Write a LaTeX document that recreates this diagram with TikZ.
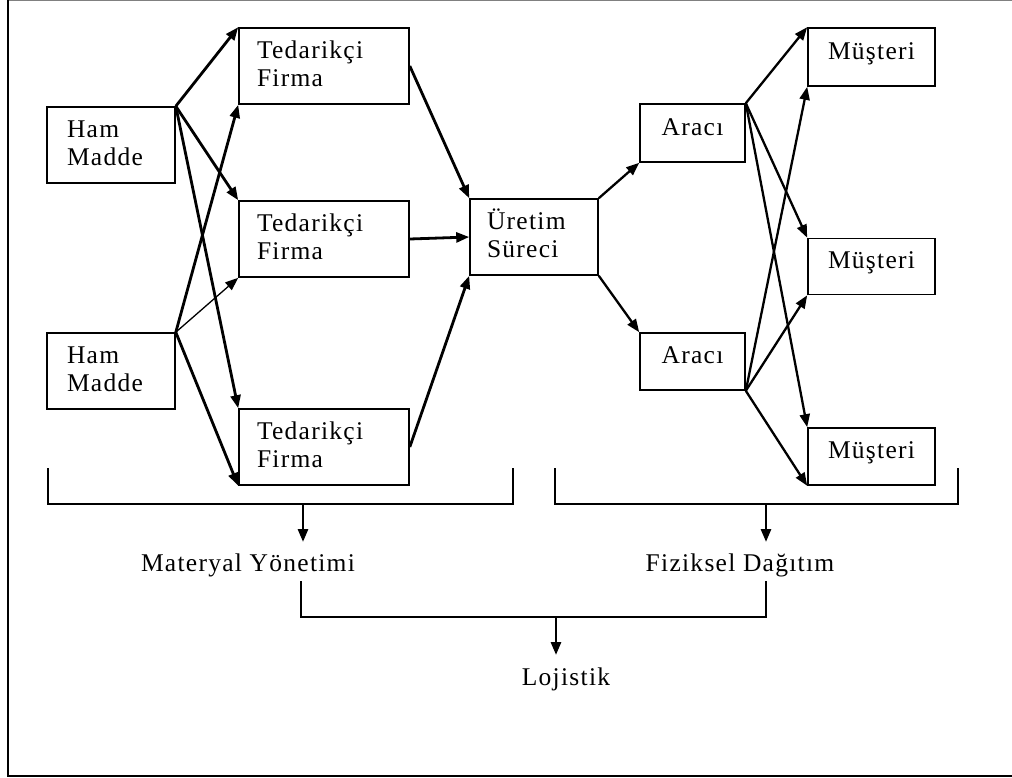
\documentclass[tikz,border=0pt]{standalone}
\usepackage{fontspec}
\setmainfont{Liberation Serif}[LetterSpace=5]
\usetikzlibrary{arrows.meta}
\begin{document}
\begin{tikzpicture}[x=1pt,y=-1pt,
  box/.style={draw, line width=1.6pt, inner sep=0pt, font=\fontsize{25.5}{28}\selectfont},
  two/.style={box, text height=17pt, text depth=33pt, align=left},
  one/.style={box, text height=17pt, text depth=13pt},
  arr/.style={line width=2.8pt, -{Triangle[length=13pt,width=10pt]}},
  thinarr/.style={line width=1.3pt, -{Triangle[length=13pt,width=10pt]}},
  brk/.style={line width=1.6pt},
  lbl/.style={inner sep=0pt, anchor=base, font=\fontsize{25.5}{28}\selectfont}
]
\useasboundingbox (0,0) rectangle (1012,777);
% frame
\draw[line width=1pt, gray] (8,0.5) -- (1012,0.5);
\draw[line width=2pt] (8,0) -- (8,776) -- (1012,776);

% boxes
\node[two, minimum width=128pt, minimum height=76pt, text width=88pt] (hm1) at (111,145) {Ham\\Madde};
\node[two, minimum width=128pt, minimum height=76pt, text width=88pt] (hm2) at (111,371) {Ham\\Madde};
\node[two, minimum width=170pt, minimum height=76pt, text width=134pt] (t1) at (324,66) {Tedarikçi\\Firma};
\node[two, minimum width=170pt, minimum height=76pt, text width=134pt] (t2) at (324,239) {Tedarikçi\\Firma};
\node[two, minimum width=170pt, minimum height=76pt, text width=134pt] (t3) at (324,447) {Tedarikçi\\Firma};
\node[two, minimum width=128pt, minimum height=76pt, text width=94pt] (u) at (534,237) {Üretim\\Süreci};
\node[one, minimum width=105pt, minimum height=58pt] (a1) at (692.5,133) {Aracı};
\node[one, minimum width=105pt, minimum height=57pt] (a2) at (692.5,361.5) {Aracı};
\node[one, minimum width=127pt, minimum height=58pt] (m1) at (871.5,57) {Müşteri};
\node[one, minimum width=127pt, minimum height=56pt] (m2) at (871.5,266.5) {Müşteri};
\node[one, minimum width=127pt, minimum height=57pt] (m3) at (871.5,456.5) {Müşteri};

% left arrows
\draw[arr] (hm1.north east) -- (t1.north west);
\draw[arr] (hm1.north east) -- (t2.north west);
\draw[arr] (hm1.north east) -- (t3.north west);
\draw[arr] (hm2.north east) -- (t1.south west);
\draw[thinarr] (hm2.north east) -- (t2.south west);
\draw[arr] (hm2.north east) -- (t3.south west);

\draw[arr] (t1.east) -- (u.north west);
\draw[arr] (t2.east) -- (u.west);
\draw[arr] (t3.east) -- (u.south west);

% right arrows
\draw[arr, line width=2.3pt] (u.north east) -- (a1.south west);
\draw[arr, line width=2.3pt] (u.south east) -- (a2.north west);
\draw[arr, line width=2.3pt] (a1.north east) -- (m1.north west);
\draw[arr, line width=2.3pt] (a1.north east) -- (m2.north west);
\draw[arr, line width=2.3pt] (a1.north east) -- (m3.north west);
\draw[arr, line width=2.3pt] (a2.south east) -- (m1.south west);
\draw[arr, line width=2.3pt] (a2.south east) -- (m2.south west);
\draw[arr, line width=2.3pt] (a2.south east) -- (m3.south west);

% brackets
\draw[brk] (48,468) -- (48,504) -- (513,504) -- (513,468);
\draw[brk] (555,468) -- (555,504) -- (958,504) -- (958,468);
\draw[brk] (301,581) -- (301,617) -- (766,617) -- (766,581);

\node[lbl] (mat) at (248,571) {Materyal Yönetimi};
\node[lbl] (fiz) at (740,571) {Fiziksel Dağıtım};
\node[lbl] (loj) at (566,685) {Lojistik};

\coordinate (b1) at (303,504);
\coordinate (b1e) at (303,542);
\coordinate (b2) at (766,504);
\coordinate (b2e) at (766,542);
\coordinate (b3) at (556,617);
\coordinate (b3e) at (556,655);
\draw[arr] (b1) -- (b1e);
\draw[arr] (b2) -- (b2e);
\draw[arr] (b3) -- (b3e);
\end{tikzpicture}
\end{document}
